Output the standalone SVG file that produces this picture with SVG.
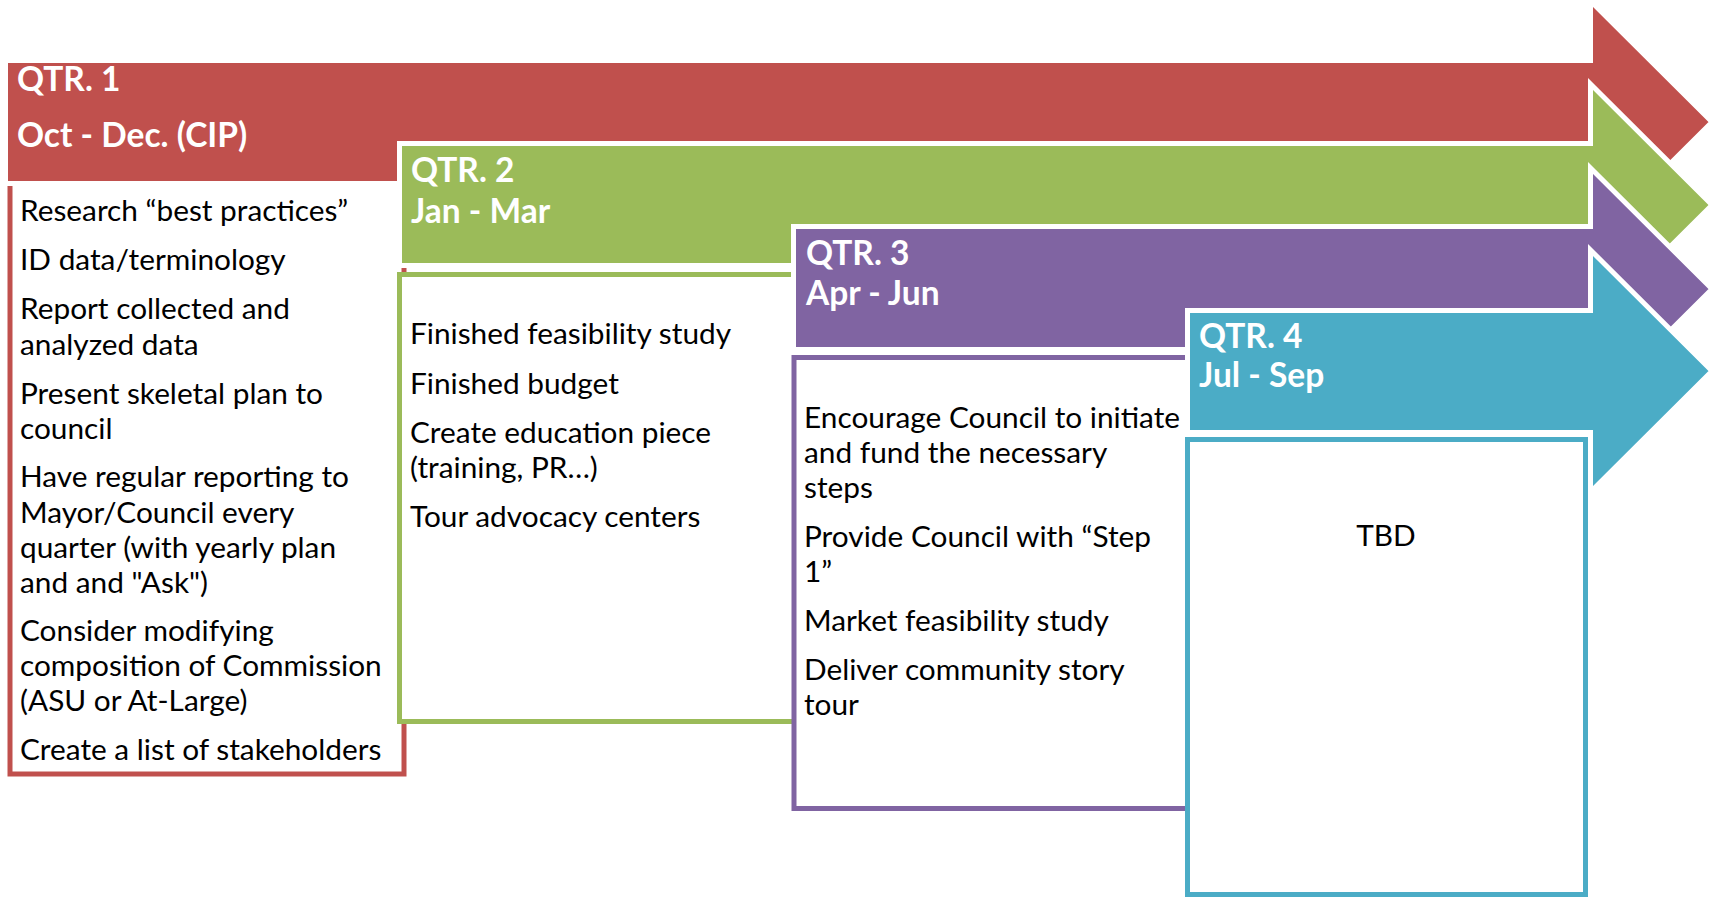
<svg xmlns="http://www.w3.org/2000/svg" width="1709" height="897" viewBox="0 0 1709 897">
<style>
.arrow{stroke:#fff;stroke-width:5;stroke-linejoin:miter}
.box{fill:#fff;stroke-width:5}
.hdr{font-family:Lato,"Open Sans",sans-serif;font-weight:bold;font-size:33.5px;fill:#fff}
.txt{font-family:Lato,"Open Sans",sans-serif;font-size:29.8px;fill:#000}
</style>
<rect width="1709" height="897" fill="#fff"/>
<g id="q1">
<rect class="box" x="10" y="176" width="394" height="598" stroke="#C0504D"/>
<path class="arrow" fill="#C0504D" d="M5.5,60.5 H1590.5 V1 L1712,122 L1590.5,243 V183.5 H5.5 Z"/>
<text class="hdr" x="17" y="91">QTR. 1</text>
<text class="hdr" x="17" y="147">Oct - Dec. (CIP)</text>
<g class="txt">
<text x="20" y="221">Research “best practices”</text>
<text x="20" y="270">ID data/terminology</text>
<text x="20" y="319">Report collected and</text>
<text x="20" y="355">analyzed data</text>
<text x="20" y="404">Present skeletal plan to</text>
<text x="20" y="439">council</text>
<text x="20" y="487">Have regular reporting to</text>
<text x="20" y="523">Mayor/Council every</text>
<text x="20" y="558">quarter (with yearly plan</text>
<text x="20" y="593">and and "Ask")</text>
<text x="20" y="641">Consider modifying</text>
<text x="20" y="676">composition of Commission</text>
<text x="20" y="711">(ASU or At-Large)</text>
<text x="20" y="760">Create a list of stakeholders</text>
</g>
</g>
<g id="q2">
<path class="box" stroke="#9BBB59" d="M899.5,274.5 H399.5 V721.5 H899.5"/>
<path class="arrow" fill="#9BBB59" d="M399.5,143.5 H1590.5 V84 L1712,205 L1590.5,326 V265.5 H399.5 Z"/>
<text class="hdr" x="411" y="182">QTR. 2</text>
<text class="hdr" x="411" y="223">Jan - Mar</text>
<g class="txt">
<text x="410" y="344">Finished feasibility study</text>
<text x="410" y="394">Finished budget</text>
<text x="410" y="443">Create education piece</text>
<text x="410" y="478">(training, PR…)</text>
<text x="410" y="527">Tour advocacy centers</text>
</g>
</g>
<g id="q3">
<path class="box" stroke="#8064A2" d="M1294,357.5 H794 V808.5 H1294"/>
<path class="arrow" fill="#8064A2" d="M793.5,226.5 H1590.5 V168 L1712,289 L1590.5,410 V349.5 H793.5 Z"/>
<text class="hdr" x="806" y="265">QTR. 3</text>
<text class="hdr" x="806" y="305">Apr - Jun</text>
<g class="txt">
<text x="804" y="428">Encourage Council to initiate</text>
<text x="804" y="463">and fund the necessary</text>
<text x="804" y="498">steps</text>
<text x="804" y="547">Provide Council with “Step</text>
<text x="804" y="582">1”</text>
<text x="804" y="631">Market feasibility study</text>
<text x="804" y="680">Deliver community story</text>
<text x="804" y="715">tour</text>
</g>
</g>
<g id="q4">
<rect class="box" x="1187.5" y="439.5" width="398" height="455" stroke="#4BACC6"/>
<path class="arrow" fill="#4BACC6" d="M1187.5,310.5 H1590.5 V250 L1712,371 L1590.5,492 V432.5 H1187.5 Z"/>
<text class="hdr" x="1199" y="348">QTR. 4</text>
<text class="hdr" x="1199" y="387">Jul - Sep</text>
<text class="txt" x="1386" y="546" text-anchor="middle">TBD</text>
</g>
<g id="connectors"/>
</svg>
